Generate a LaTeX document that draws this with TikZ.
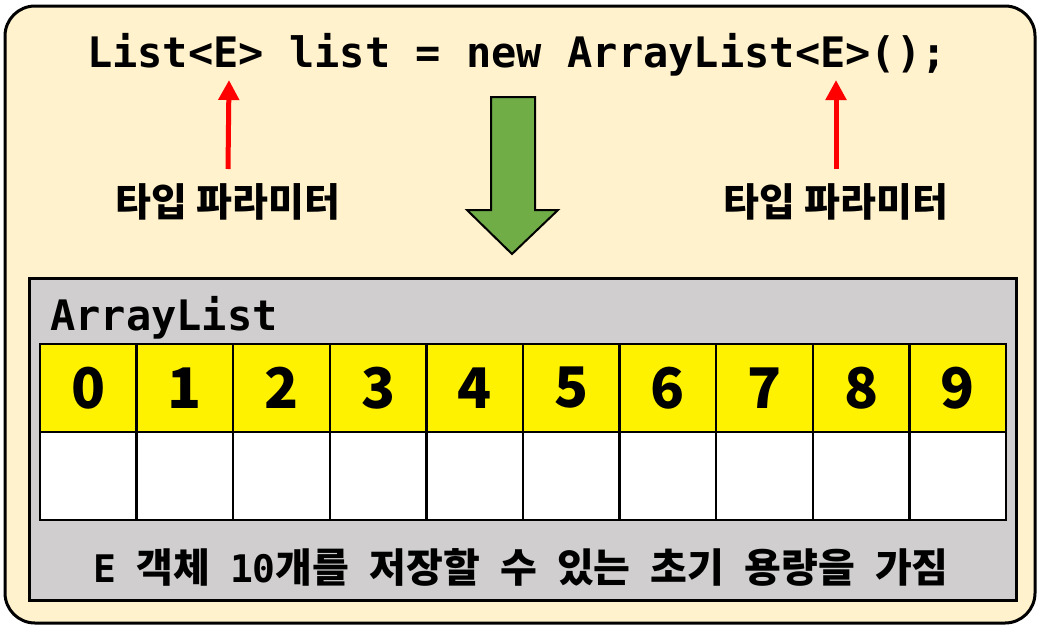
\documentclass[tikz,border=0pt]{standalone}
\usepackage{fontspec}
\setmainfont{Noto Sans CJK KR}
\newfontfamily\codefont{DejaVu Sans Mono}
\newfontfamily\capfont{Noto Sans CJK KR}[WordSpace=2.2]
\usetikzlibrary{arrows.meta}
\definecolor{paper}{HTML}{FFF2CC}
\definecolor{boxgray}{HTML}{D0CECE}
\definecolor{arrowgreen}{HTML}{70AD47}

\tikzset{
  codetext/.style={font=\codefont\bfseries\fontsize{42}{50}\selectfont, inner sep=0},
  krlabel/.style={font=\bfseries\fontsize{39}{45}\selectfont, inner sep=0},
  typearrow/.style={red, line width=5pt, -{Triangle[length=20pt,width=20pt]}},
  idxcell/.style={draw, line width=2.5pt, fill=yellow, minimum width=96.6pt,
    minimum height=88pt, inner sep=0, font=\bfseries\fontsize{56}{60}\selectfont},
  emptycell/.style={draw, line width=2.5pt, fill=white, minimum width=96.6pt,
    minimum height=88pt, inner sep=0}
}

\begin{document}
\begin{tikzpicture}[x=1pt, y=-1pt]
\useasboundingbox (0,0) rectangle (1040,632);
% outer frame
\draw[line width=3pt, fill=paper, rounded corners=30pt] (5,6) rectangle (1035,623);

% code line
\node[codetext, anchor=base] (code) at (517,67) {List<E> list = new ArrayList<E>();};
\coordinate (e1) at (229,80);
\coordinate (e2) at (836,80);
\node[krlabel, anchor=base] (tp1) at (228,216) {타입 파라미터};
\node[krlabel, anchor=base] (tp2) at (836,216) {타입 파라미터};
\draw[typearrow] (tp1.north |- 0,169) -- (e1);
\draw[typearrow] (tp2.north |- 0,169) -- (e2);

% green arrow
\draw[line width=2pt, fill=arrowgreen]
  (491,97) -- (535,97) -- (535,210) -- (558,210) -- (512,254)
  -- (467,210) -- (491,210) -- cycle;

% ArrayList box
\draw[line width=3pt, fill=boxgray] (29,278) rectangle (1016,600);
\node[codetext, anchor=base west] (al) at (50,330) {ArrayList};

\foreach \i in {0,...,9}
{
  \node[idxcell] (idx\i) at (40+48.3+\i*96.6, 388) {\i};
  \node[emptycell] (cell\i) at (40+48.3+\i*96.6, 476) {};
}

\node[inner sep=0, font=\capfont\bfseries\fontsize{40}{44}\selectfont, anchor=base] (cap) at (521,582)
  {{\codefont\fontsize{38}{44}\selectfont E} 객체 {\codefont\fontsize{38}{44}\selectfont 10}개를 저장할 수 있는 초기 용량을 가짐};
\end{tikzpicture}
\end{document}
